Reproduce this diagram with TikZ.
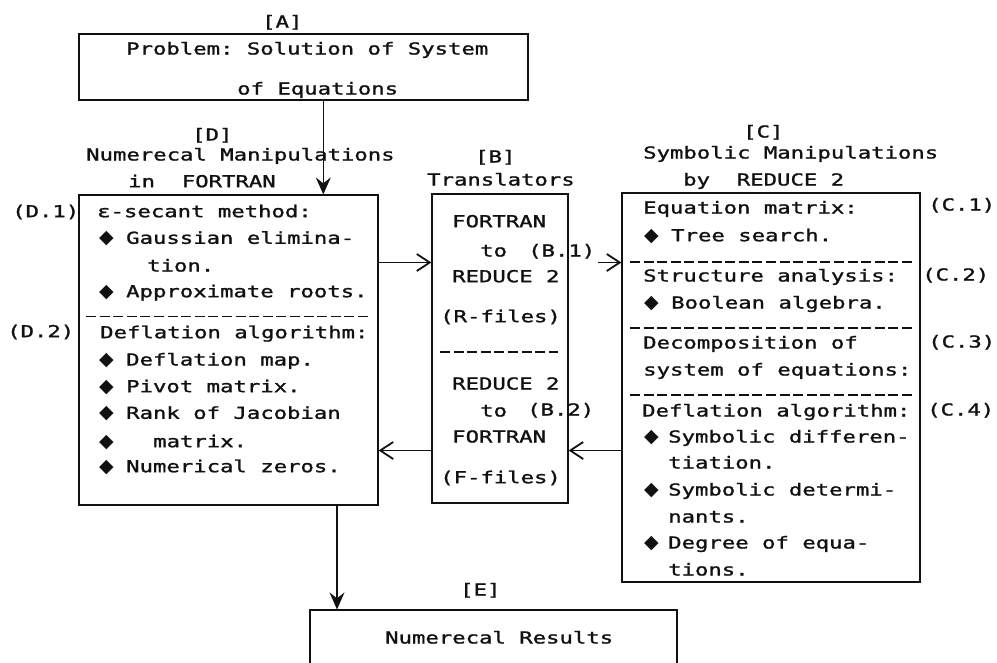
\documentclass[tikz,border=0pt]{standalone}
\usepackage{fontspec}
\usepackage{tikz}
\usetikzlibrary{arrows.meta}
\setmonofont[FakeStretch=1.35,FakeBold=1.4]{DejaVu Sans Mono}
\newfontfamily\symfont{DejaVu Sans}
\definecolor{ink}{HTML}{111111}

\begin{document}
\begin{tikzpicture}[x=1pt,y=-1pt,
    box/.style={draw=ink,line width=1.2pt,inner sep=0pt},
    txt/.style={anchor=west,inner sep=0pt,text height=11pt,text depth=0pt,text=ink,
      font=\ttfamily\fontsize{16.5}{18}\selectfont},
    bul/.style={anchor=west,inner sep=0pt,text height=11pt,text depth=0pt,text=ink,
      font=\symfont\fontsize{19}{21}\selectfont},
    sep/.style={draw=ink,line width=1.2pt,dash pattern=on 10pt off 3.6pt},
    harr/.style={draw=ink,line width=1.1pt,-{Straight Barb[length=13pt,width=17pt,line width=1.8pt]}},
    varr/.style={draw=ink,line width=1.1pt,-{Stealth[length=17pt,width=15pt,inset=6pt]}}]
  \useasboundingbox (0,0) rectangle (997,662);

  \node[box,minimum width=449pt,minimum height=66pt] (A) at (303.5,67) {};
  \node[box,minimum width=299pt,minimum height=310pt] (D) at (228.5,350) {};
  \node[box,minimum width=136pt,minimum height=309pt] (B) at (500,348.5) {};
  \node[box,minimum width=298pt,minimum height=389pt] (C) at (771,387.5) {};
  \node[box,minimum width=367pt,minimum height=62pt] (E) at (493.5,641) {};

  \foreach \x/\y/\t [count=\i] in {262/22/{[A]},126/49/{Problem: Solution of System},237/89/{of Equations},
      192/135/{[D]},86/155/{Numerecal Manipulations},128/181.7/{in~~FORTRAN},
      475/157/{[B]},427/180/{Translators},
      743/132/{[C]},643/153/{Symbolic Manipulations},683/180/{by~~REDUCE 2},
      460/590/{[E]},385/638/{Numerecal Results}}{
    \node[txt] (h\i) at (\x,\y) {\t};
  }

  \foreach \x/\y/\t [count=\i] in {97/211.7/{ε-secant method:},126/238.3/{Gaussian elimina-},147/266/{tion.},
      126/291.7/{Approximate roots.},100/332.7/{Deflation algorithm:},126/360/{Deflation map.},
      126/386.7/{Pivot matrix.},126/413.3/{Rank of Jacobian},153/441.7/{matrix.},126/466.7/{Numerical zeros.},
      12/211.7/{(D.1)},7/331.7/{(D.2)}}{
    \node[txt] (d\i) at (\x,\y) {\t};
  }
  \foreach \y [count=\i] in {238.3,291.7,360,386.7,413.3,441.7,466.7}{
    \node[bul] (db\i) at (99,\y) {◆};
  }
  \draw[sep] (86,316.7) -- (368.3,316.7);

  \foreach \x/\y/\t [count=\i] in {452/221.7/FORTRAN,480/251/to,452/276.7/{REDUCE 2},440/316.7/{(R-files)},
      452/384/{REDUCE 2},480/411/to,452/437/FORTRAN,440/477.7/{(F-files)}}{
    \node[txt] (b\i) at (\x,\y) {\t};
  }
  \node[txt] (b1lab) at (528,251) {(B.1)};
  \node[txt] (b2lab) at (527,410) {(B.2)};
  \draw[sep] (440,352) -- (558.3,352);

  \foreach \x/\y/\t [count=\i] in {643/208/{Equation matrix:},671/235.7/{Tree search.},643/276/{Structure analysis:},
      671/303/{Boolean algebra.},643/343/{Decomposition of},643/370/{system of equations:},
      642/411/{Deflation algorithm:},668/437/{Symbolic differen-},668/463/{tiation.},668/490/{Symbolic determi-},
      668/517/{nants.},668/543/{Degree of equa-},668/570/{tions.},
      928/205/{(C.1)},922/275/{(C.2)},928/342/{(C.3)},927/410/{(C.4)}}{
    \node[txt] (c\i) at (\x,\y) {\t};
  }
  \foreach \y [count=\i] in {235.7,303,437,490,543}{
    \node[bul] (cb\i) at (644,\y) {◆};
  }
  \foreach \y in {262,328,395}{
    \draw[sep] (630,\y) -- (913,\y);
  }

  \coordinate (ad) at (323.3,0);
  \coordinate (de) at (337,0);
  \coordinate (up) at (0,262.5);
  \coordinate (lo) at (0,450.5);
  \draw[varr] (A.south -| ad) -- (D.north -| ad);
  \draw[harr] (D.east |- up) -- (B.west |- up);
  \draw[harr] ([xshift=3pt]b1lab.east |- up) -- (C.west |- up);
  \draw[harr] (C.west |- lo) -- (B.east |- lo);
  \draw[harr] (B.west |- lo) -- (D.east |- lo);
  \draw[varr] (D.south -| de) -- (E.north -| de);
\end{tikzpicture}
\end{document}
